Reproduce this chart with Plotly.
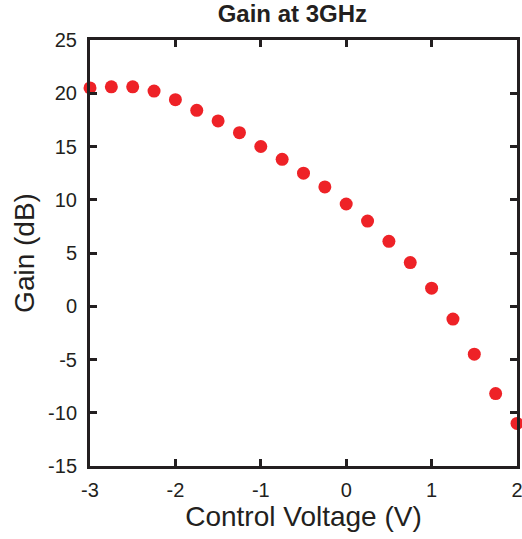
import plotly.graph_objects as go

voltage = [-3, -2.75, -2.5, -2.25, -2, -1.75, -1.5, -1.25, -1, -0.75, -0.5,
           -0.25, 0, 0.25, 0.5, 0.75, 1, 1.25, 1.5, 1.75, 2]
gain = [20.5, 20.6, 20.6, 20.2, 19.4, 18.4, 17.4, 16.3, 15.0, 13.8, 12.5,
        11.2, 9.6, 8.0, 6.1, 4.1, 1.7, -1.2, -4.5, -8.2, -11.0]
x_ticks = [-3, -2, -1, 0, 1, 2]
x_labels = ["-3", "-2", "-1", "0", "1", "2"]
y_ticks = [-15, -10, -5, 0, 5, 10, 15, 20, 25]
y_labels = ["-15", "-10", "-5", "0", "5", "10", "15", "20", "25"]

font = "Liberation Sans, Arial, sans-serif"
ink = "#231F20"

fig = go.Figure(go.Scatter(
    x=voltage, y=gain, mode="markers",
    marker=dict(color="#EE2227", size=13, line=dict(width=0)),
    cliponaxis=False,
))

axis_common = dict(
    showline=True, linecolor=ink, linewidth=3, mirror="ticks",
    ticks="inside", ticklen=7, tickwidth=3, tickcolor=ink,
    showgrid=False, zeroline=False, automargin=False,
    ticklabeloverflow="allow",
    tickfont=dict(family=font, size=20, color=ink),
)

fig.update_layout(
    width=522, height=539,
    margin=dict(l=90, r=5, t=40, b=73),
    paper_bgcolor="white", plot_bgcolor="white",
    showlegend=False,
    title=dict(text="<b>Gain at 3GHz</b>", x=0.56, xanchor="center", y=0.975, yanchor="middle",
               font=dict(family=font, size=24, color=ink)),
    xaxis=dict(range=[-3, 2], tickvals=x_ticks, ticktext=x_labels, ticklabelstandoff=4,
               title=dict(text="Control Voltage (V)", standoff=7,
                          font=dict(family=font, size=28, color=ink)),
               **axis_common),
    yaxis=dict(range=[-15, 25], tickvals=y_ticks, ticktext=y_labels, ticklabelstandoff=6,
               title=dict(text="Gain (dB)", standoff=6,
                          font=dict(family=font, size=28, color=ink)),
               **axis_common),
)

fig.write_html("out.html", config={"displayModeBar": False},
               post_script="document.body.style.margin='0';document.body.style.overflow='hidden';")
